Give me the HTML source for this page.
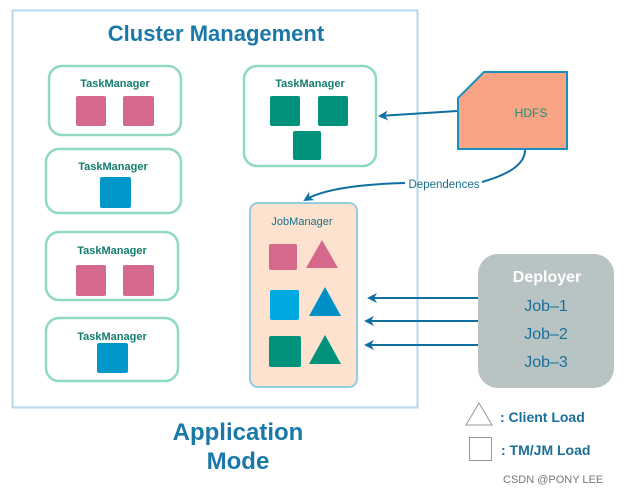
<!DOCTYPE html>
<html><head><meta charset="utf-8"><style>body{margin:0;background:#fff}</style></head><body>
<svg width="630" height="491" viewBox="0 0 630 491" xmlns="http://www.w3.org/2000/svg" font-family="Liberation Sans, sans-serif">
<defs><marker id="a" markerWidth="10" markerHeight="10" refX="8" refY="5" orient="auto" markerUnits="userSpaceOnUse"><path d="M0,0 L10,5 L0,10 L3,5 Z" fill="#0f6f9f"/></marker></defs>
<rect x="12.5" y="10.5" width="405" height="397" fill="#fff" stroke="#b5d7ef" stroke-width="2"/>
<text x="216" y="41" font-size="22" fill="#1a79a8" text-anchor="middle" font-weight="bold" stroke="none">Cluster Management</text>
<g fill="#fff" stroke="#8fd9c4" stroke-width="2.5">
<rect x="49" y="66" width="132" height="69" rx="13"/>
<rect x="46" y="149" width="135" height="64" rx="13"/>
<rect x="46" y="232" width="132" height="68" rx="13"/>
<rect x="46" y="318" width="132" height="63" rx="13"/>
<rect x="244" y="66" width="132" height="100" rx="13"/>
</g>
<rect x="250" y="203" width="107" height="184" rx="8" fill="#fde3cf" stroke="#8fcfe0" stroke-width="2"/>
<g font-size="11" fill="#127d6f" text-anchor="middle" font-weight="bold">
<text x="115" y="87">TaskManager</text><text x="113" y="170">TaskManager</text>
<text x="112" y="254">TaskManager</text><text x="112" y="340">TaskManager</text>
<text x="310" y="87">TaskManager</text><text x="302" y="225" fill="#1a6f8a" font-weight="normal">JobManager</text>
</g>
<g fill="#d4698c"><rect x="76" y="96" width="30" height="30" rx="2"/><rect x="123" y="96" width="31" height="30" rx="2"/><rect x="76" y="265" width="30" height="31" rx="2"/><rect x="123" y="265" width="31" height="31" rx="2"/><rect x="269" y="244" width="28" height="26" rx="2"/><polygon points="322,240 306,268 338,268"/></g>
<g fill="#0297c9"><rect x="100" y="177" width="31" height="31" rx="2"/><rect x="97" y="343" width="31" height="30" rx="2"/></g>
<rect x="270" y="290" width="29" height="30" fill="#00a8e1" rx="2"/><polygon points="325,287 309,316 341,316" fill="#0190c5"/>
<g fill="#00927a"><rect x="270" y="96" width="30" height="30" rx="2"/><rect x="318" y="96" width="30" height="30" rx="2"/><rect x="293" y="131" width="28" height="29" rx="2"/><rect x="269" y="336" width="32" height="31" rx="2"/><polygon points="325,335 309,364 341,364"/></g>
<polygon points="484,72 567,72 567,149 458,149 458,98" fill="#f9a585" stroke="#1a8fbf" stroke-width="2"/>
<text x="531" y="117" font-size="12" fill="#1a8f7a" text-anchor="middle">HDFS</text>
<path d="M457,111 L380,116" stroke="#0f6f9f" stroke-width="2" fill="none" marker-end="url(#a)"/>
<path d="M525,150 Q525,170 482,182 M405,183 Q330,185 305,200" stroke="#0f6f9f" stroke-width="2" fill="none" marker-end="url(#a)"/>
<text x="444" y="188" font-size="11.5" fill="#1a6f8a" text-anchor="middle">Dependences</text>
<rect x="478" y="254" width="136" height="134" rx="20" fill="#b8c4c3"/>
<text x="547" y="282" font-size="16" fill="#fff" text-anchor="middle" font-weight="bold">Deployer</text>
<g font-size="16" fill="#1a6f9a" text-anchor="middle"><text x="546" y="311">Job–1</text><text x="546" y="339">Job–2</text><text x="546" y="367">Job–3</text></g>
<g stroke="#0f6f9f" stroke-width="2" marker-end="url(#a)"><line x1="478" y1="298" x2="369" y2="298"/><line x1="478" y1="321" x2="366" y2="321"/><line x1="478" y1="345" x2="366" y2="345"/></g>
<text x="238" y="440" font-size="24" fill="#1a79a8" text-anchor="middle" font-weight="bold">Application</text>
<text x="238" y="469" font-size="24" fill="#1a79a8" text-anchor="middle" font-weight="bold">Mode</text>
<polygon points="479,403 466,425 492,425" fill="#fff" stroke="#999"/>
<rect x="469.5" y="437.5" width="22" height="23" fill="#fff" stroke="#999"/>
<text x="500" y="422" font-size="14" fill="#1a6f9a" font-weight="bold">: Client Load</text>
<text x="501" y="455" font-size="14" fill="#1a6f9a" font-weight="bold">: TM/JM Load</text>
<text x="503" y="483" font-size="11" fill="#777">CSDN @PONY LEE</text>
</svg>
</body></html>
